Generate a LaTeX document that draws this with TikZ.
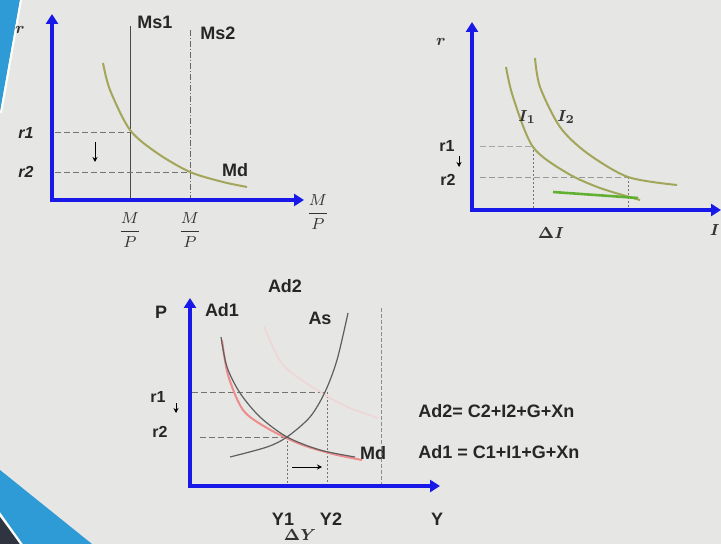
\documentclass[tikz,border=0pt]{standalone}
\usepackage{amsmath}
\usepackage{fontspec}
\setsansfont{Liberation Sans}
\usepackage{tikz}
\usetikzlibrary{arrows.meta}
\definecolor{SlideBg}{HTML}{E6E6E4}
\definecolor{SlideBlue}{HTML}{2E9AD6}
\definecolor{SlideDark}{HTML}{2F3540}
\definecolor{AxisBlue}{HTML}{1818E8}
\definecolor{CurveOlive}{HTML}{A2A65A}
\definecolor{CurveGreen}{HTML}{62B032}
\definecolor{CurveRed}{HTML}{EE8C8C}
\definecolor{CurvePink}{HTML}{EED6D6}
\definecolor{CurveGray}{HTML}{5E5E5E}

\begin{document}
\begin{tikzpicture}[x=0.5pt,y=-0.5pt,
  axis/.style={{Triangle[length=5pt,width=6pt]}-{Triangle[length=5pt,width=6pt]},
               line width=2pt,AxisBlue,line join=miter},
  supply/.style={line width=0.5pt,black!70},
  guide/.style={line width=0.45pt,black!55,dash pattern=on 3pt off 1.5pt},
  dguide/.style={line width=0.45pt,black!55,dash pattern=on 1pt off 1pt},
  olive/.style={line width=1pt,CurveOlive},
  movearrow/.style={-{Stealth[length=2.5pt,width=2.5pt]},line width=0.5pt,black},
  lab/.style={font=\sffamily\bfseries\fontsize{9}{10}\selectfont,text=black!85,inner sep=0pt},
  slab/.style={font=\sffamily\bfseries\fontsize{8}{9}\selectfont,text=black!85,inner sep=0pt},
  ilab/.style={font=\sffamily\bfseries\itshape\fontsize{8}{9}\selectfont,text=black!85,inner sep=0pt},
  mlab/.style={font=\fontsize{8.5}{10}\selectfont,text=black!80,inner sep=0pt},
]
\useasboundingbox (0,0) rectangle (721,544);
\clip (0,0) rectangle (721,544);

% slide background and its corner stripes
\fill[SlideBg] (0,0) rectangle (721,544);
\fill[SlideBlue] (0,0) -- (20,0) -- (0,112) -- cycle;
\draw[white,line width=1pt] (21,0) -- (1,113);
\fill[SlideBlue] (0,470) -- (92,544) -- (23,544) -- (0,512) -- cycle;
\fill[SlideDark] (0,517) -- (20,544) -- (0,544) -- cycle;
\draw[white,line width=0.8pt] (0,514) -- (21,544);

% ---- money market (top left)
\coordinate (o1) at (52,200);
\coordinate (y1) at (52,14);
\coordinate (x1) at (304,200);
\coordinate (ms1t) at (130,26);  \coordinate (ms1b) at (130,200);
\coordinate (ms2t) at (190,30);  \coordinate (ms2b) at (190,200);
\coordinate (r1a) at (55,132);   \coordinate (r1b) at (130,132);
\coordinate (r2a) at (55,172);   \coordinate (r2b) at (190,172);
\coordinate (dn1a) at (95,142);  \coordinate (dn1b) at (95,162);

\draw[supply] (ms1t) -- (ms1b);
\draw[line width=0.45pt,black!60,dash pattern=on 3pt off 1pt on 0.5pt off 1pt] (ms2t) -- (ms2b);
\draw[guide] (r1a) -- (r1b);
\draw[guide] (r2a) -- (r2b);
\draw[movearrow] (dn1a) -- (dn1b);
\draw[olive] plot[smooth] coordinates {(103,63) (110,90) (130,130) (157,153) (190,172) (223,182) (247,187)};
\draw[axis] (y1) -- (o1) -- (x1);

\node[mlab] (rax1) at (20,30) {$\boldsymbol{r}$};
\node[lab] (ms1) at (155,22) {Ms1};
\node[lab] (ms2) at (218,33) {Ms2};
\node[ilab] (r1l1) at (26,133) {r1};
\node[ilab] (r2l1) at (26,172) {r2};
\node[lab] (md1) at (235,170) {Md};
\node[mlab] (mp1) at (130,230) {$\dfrac{M}{P}$};
\node[mlab] (mp2) at (190,230) {$\dfrac{M}{P}$};
\node[mlab] (mp3) at (318,212) {$\dfrac{M}{P}$};

% ---- investment (top right)
\coordinate (o2) at (472,210);
\coordinate (y2) at (472,22);
\coordinate (x2) at (721,210);
\coordinate (q1a) at (480,146);  \coordinate (q1b) at (533,146);
\coordinate (q2a) at (480,177);  \coordinate (q2b) at (628,177);
\coordinate (v1t) at (533,146);  \coordinate (v1b) at (533,210);
\coordinate (v2t) at (628,177);  \coordinate (v2b) at (628,210);
\coordinate (g1) at (553,192);   \coordinate (g2) at (638,198);
\coordinate (dn2a) at (459,156); \coordinate (dn2b) at (459,167);

\draw[guide,black!35] (q1a) -- (q1b);
\draw[guide,black!40] (q2a) -- (q2b);
\draw[dguide] (v1t) -- (v1b);
\draw[dguide] (v2t) -- (v2b);
\draw[olive] plot[smooth] coordinates {(506,67) (513,97) (533,147) (567,173) (600,188) (640,200)};
\draw[olive] plot[smooth] coordinates {(535,58) (540,87) (560,127) (587,153) (628,177) (677,185)};
\draw[line width=1.3pt,CurveGreen] (g1) -- (g2);
\draw[movearrow] (dn2a) -- (dn2b);
\draw[axis] (y2) -- (o2) -- (x2);

\node[mlab] (rax2) at (441,42) {$\boldsymbol{r}$};
\node[mlab] (i1) at (527,117) {$\boldsymbol{I_1}$};
\node[mlab] (i2) at (566,117) {$\boldsymbol{I_2}$};
\node[slab] (r1l2) at (447,146) {r1};
\node[slab] (r2l2) at (448,180) {r2};
\node[mlab] (dI) at (551,233) {$\boldsymbol{\Delta I}$};
\node[mlab,anchor=east] (iax) at (720,230) {$\boldsymbol{I}$};

% ---- goods market (bottom)
\coordinate (o3) at (190,486);
\coordinate (y3) at (190,298);
\coordinate (x3) at (440,486);
\coordinate (p1a) at (192,392);  \coordinate (p1b) at (327,392);
\coordinate (p2a) at (200,437);  \coordinate (p2b) at (287,437);
\coordinate (w1t) at (287,437);  \coordinate (w1b) at (287,486);
\coordinate (w2t) at (327,392);  \coordinate (w2b) at (327,486);
\coordinate (capt) at (381,308); \coordinate (capb) at (381,486);
\coordinate (rt1) at (292,467);  \coordinate (rt2) at (322,467);
\coordinate (dn3a) at (176,403); \coordinate (dn3b) at (176,413);

\draw[line width=0.4pt,black!45,dash pattern=on 2pt off 1pt] (capt) -- (capb);
\draw[guide] (p1a) -- (p1b);
\draw[guide] (p2a) -- (p2b);
\draw[dguide] (w1t) -- (w1b);
\draw[dguide] (w2t) -- (w2b);
\draw[line width=0.8pt,CurvePink] plot[smooth] coordinates {(264,326) (284,366) (327,396) (350,408) (378,418)};
\draw[line width=1pt,CurveRed] plot[smooth] coordinates {(222,340) (228,375) (243,410) (267,428) (300,444) (333,454) (362,460)};
\draw[line width=0.6pt,CurveGray] plot[smooth] coordinates {(221,337) (227,367) (240,393) (260,417) (287,437) (320,450) (355,457)};
\draw[line width=0.6pt,CurveGray] plot[smooth] coordinates {(230,457) (267,447) (287,437) (310,417) (325,392) (337,360) (348,313)};
\draw[movearrow] (rt1) -- (rt2);
\draw[movearrow] (dn3a) -- (dn3b);
\draw[axis] (y3) -- (o3) -- (x3);

\node[lab] (pax) at (161,312) {P};
\node[lab] (ad1) at (222,310) {Ad1};
\node[lab] (ad2) at (285,286) {Ad2};
\node[lab] (as) at (320,318) {As};
\node[slab] (r1l3) at (158,397) {r1};
\node[slab] (r2l3) at (160,432) {r2};
\node[lab] (md3) at (373,453) {Md};
\node[lab] (yy1) at (283,519) {Y1};
\node[lab] (yy2) at (331,519) {Y2};
\node[lab] (yax) at (437,519) {Y};
\node[mlab] (dY) at (300,535) {$\boldsymbol{\Delta Y}$};
\node[lab,anchor=west] (eq2) at (418,411) {Ad2= C2+I2+G+Xn};
\node[lab,anchor=west] (eq1) at (418,452) {Ad1 = C1+I1+G+Xn};
\end{tikzpicture}
\end{document}
